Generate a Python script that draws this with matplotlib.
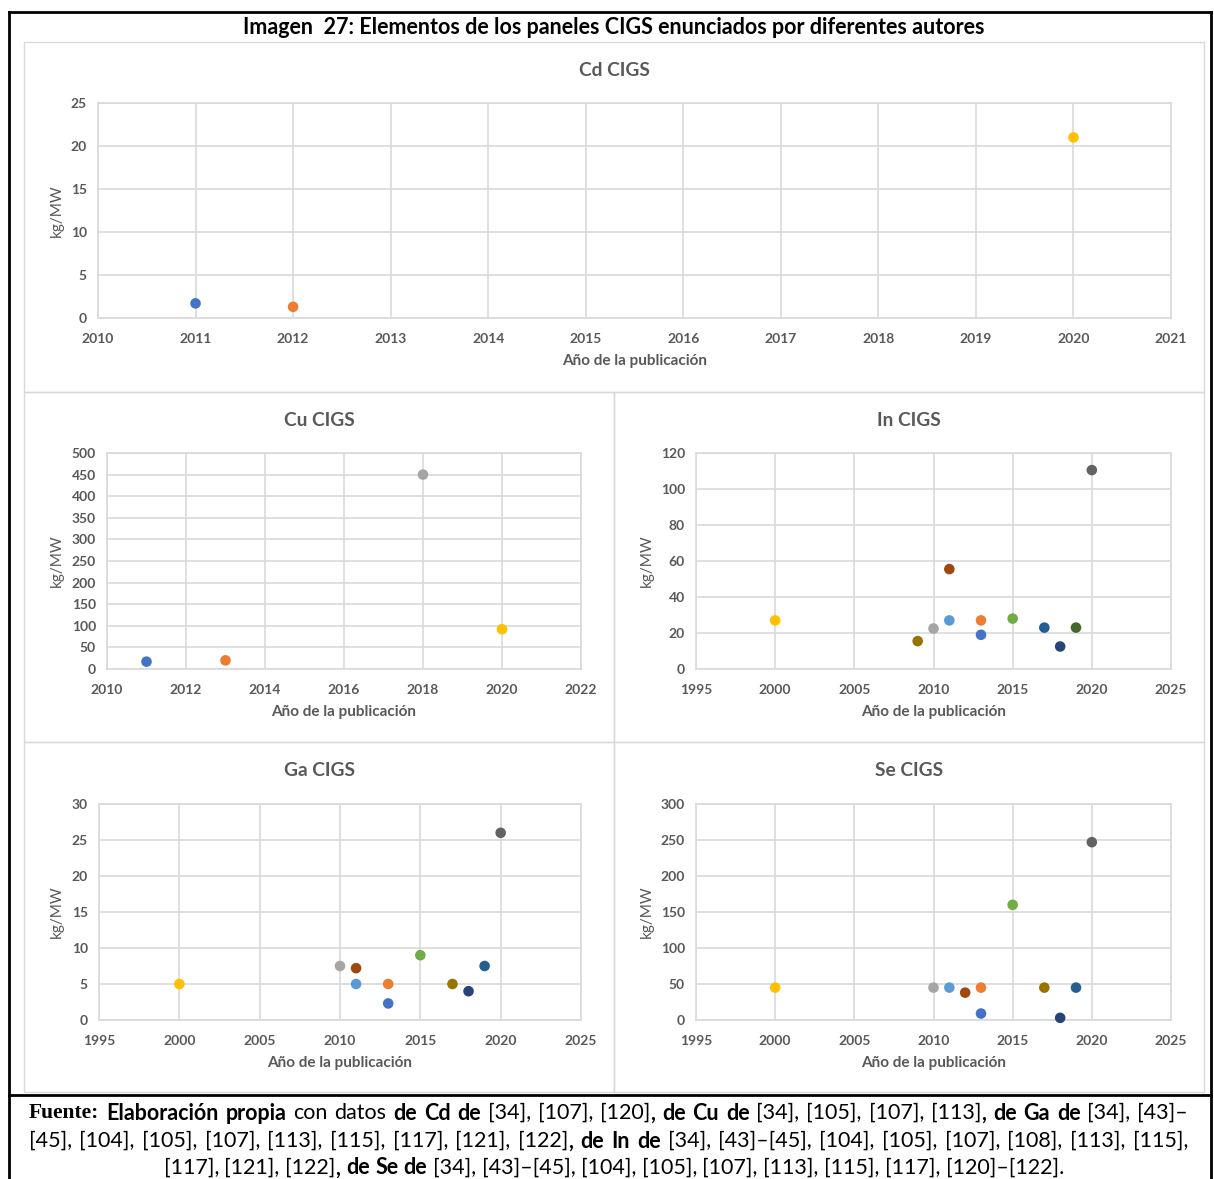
import matplotlib
matplotlib.use('Agg')
import matplotlib.pyplot as plt
from matplotlib.patches import Rectangle
from matplotlib.lines import Line2D

plt.rcParams['font.family'] = ['Lato', 'DejaVu Sans']

W, H = 1214, 1179
GREY_TXT = '#595959'
GRID = '#D9D9D9'

# colour names (Excel office palette)
BLUE = '#4472C4'
ORANGE = '#ED7D31'
GREY = '#A5A5A5'
YELLOW = '#FFC000'
LBLUE = '#5B9BD5'
GREEN = '#70AD47'
NAVY = '#264478'
BROWN = '#9E480E'
DGREY = '#636363'
OLIVE = '#997300'
DBLUE = '#255E91'
DGREEN = '#43682B'

# ---- data ----
cd_years = [2011, 2012, 2020]
cd_values = [1.7, 1.3, 21]
cd_colors = [BLUE, ORANGE, YELLOW]

cu_years = [2011, 2013, 2018, 2020]
cu_values = [17, 20, 450, 92]
cu_colors = [BLUE, ORANGE, GREY, YELLOW]

in_years = [2000, 2009, 2010, 2011, 2011, 2013, 2013, 2015, 2017, 2018, 2019, 2020]
in_values = [27, 15.5, 22.5, 27, 55.5, 27, 19, 28, 23, 12.5, 23, 110.5]
in_colors = [YELLOW, OLIVE, GREY, LBLUE, BROWN, ORANGE, BLUE, GREEN, DBLUE, NAVY, DGREEN, DGREY]

ga_years = [2000, 2010, 2011, 2011, 2013, 2013, 2015, 2017, 2018, 2019, 2020]
ga_values = [5, 7.5, 7.2, 5, 5, 2.3, 9, 5, 4, 7.5, 26]
ga_colors = [YELLOW, GREY, BROWN, LBLUE, ORANGE, BLUE, GREEN, OLIVE, NAVY, DBLUE, DGREY]

se_years = [2000, 2010, 2011, 2012, 2013, 2013, 2015, 2017, 2018, 2019, 2020]
se_values = [45, 45, 45, 38, 45, 9, 160, 45, 3, 45, 247]
se_colors = [YELLOW, GREY, LBLUE, BROWN, ORANGE, BLUE, GREEN, OLIVE, NAVY, DBLUE, DGREY]

main_title = 'Imagen  27: Elementos de los paneles CIGS enunciados por diferentes autores'
x_title = 'Año de la publicación'
y_title = 'kg/MW'

caption_lines = [
    [('Fuente: ', 'serif'), ('Elaboración propia', 'b'), (' con datos ', 'r'), ('de Cd de', 'b'),
     (' [34], [107], [120]', 'r'), (', de Cu de', 'b'), (' [34], [105], [107], [113]', 'r'),
     (', de Ga de', 'b'), (' [34], [43]–', 'r')],
    [('[45], [104], [105], [107], [113], [115], [117], [121], [122]', 'r'), (', de In de', 'b'),
     (' [34], [43]–[45], [104], [105], [107], [108], [113], [115],', 'r')],
    [('[117], [121], [122]', 'r'), (', de Se de', 'b'),
     (' [34], [43]–[45], [104], [105], [107], [113], [115], [117], [120]–[122].', 'r')],
]

fig = plt.figure(figsize=(W / 100, H / 100), dpi=100)


def fx(px):
    return px / W


def fy(py):
    return 1 - py / H


# frames
fig.add_artist(Line2D([fx(9), fx(1211)], [fy(12), fy(12)], color='black', lw=2))
fig.add_artist(Line2D([fx(9), fx(9)], [fy(12), fy(1182)], color='black', lw=2))
fig.add_artist(Line2D([fx(1211), fx(1211)], [fy(12), fy(1182)], color='black', lw=2))
fig.add_artist(Line2D([fx(9), fx(1211)], [fy(1095), fy(1095)], color='black', lw=2))

panels = [(24, 42, 1204, 392), (24, 392, 614, 742), (614, 392, 1204, 742),
          (24, 742, 614, 1092), (614, 742, 1204, 1092)]
for x0, y0, x1, y1 in panels:
    fig.add_artist(Rectangle((fx(x0), fy(y1)), fx(x1) - fx(x0), fy(y0) - fy(y1),
                             fill=False, ec=GRID, lw=1))

fig.text(fx(614), fy(28), main_title, ha='center', va='center', fontsize=15.5,
         fontweight='bold', color='black')


def make_panel(box, panel, title, years, values, colors, xlim, xstep, ylim, ystep):
    l, t, r, b = box
    ax = fig.add_axes([fx(l), fy(b), fx(r) - fx(l), fy(t) - fy(b)])
    ax.scatter(years, values, c=colors, s=58, zorder=3, clip_on=False, linewidths=0)
    ax.set_xlim(*xlim)
    ax.set_ylim(*ylim)
    ax.set_xticks(range(xlim[0], xlim[1] + 1, xstep))
    yt = []
    v = ylim[0]
    while v <= ylim[1]:
        yt.append(v)
        v += ystep
    ax.set_yticks(yt)
    ax.grid(True, color=GRID, lw=1.2)
    ax.set_axisbelow(True)
    for s in ax.spines.values():
        s.set_color(GRID)
        s.set_linewidth(1.2)
    ax.tick_params(length=0, labelsize=10, labelcolor=GREY_TXT)
    ax.tick_params(axis='x', pad=11)
    ax.tick_params(axis='y', pad=8)
    for lab in ax.get_xticklabels() + ax.get_yticklabels():
        lab.set_fontweight('bold')
    px0, py0, px1, py1 = panel
    fig.text(fx((px0 + px1) / 2), fy(t - 33), title, ha='center', va='center',
             fontsize=13.8, fontweight='bold', color=GREY_TXT)
    fig.text(fx((l + r) / 2), fy(b + 43), x_title, ha='center', va='center',
             fontsize=11, fontweight='bold', color=GREY_TXT)
    fig.text(fx(px0 + 33), fy((t + b) / 2), y_title, ha='center', va='center', rotation=90,
             fontsize=11, color=GREY_TXT)
    return ax


make_panel((98, 103, 1171, 318), panels[0], 'Cd CIGS', cd_years, cd_values, cd_colors,
           (2010, 2021), 1, (0, 25), 5)
make_panel((107, 453, 581, 669), panels[1], 'Cu CIGS', cu_years, cu_values, cu_colors,
           (2010, 2022), 2, (0, 500), 50)
make_panel((696, 453, 1171, 669), panels[2], 'In CIGS', in_years, in_values, in_colors,
           (1995, 2025), 5, (0, 120), 20)
make_panel((99, 804, 581, 1020), panels[3], 'Ga CIGS', ga_years, ga_values, ga_colors,
           (1995, 2025), 5, (0, 30), 5)
make_panel((696, 804, 1171, 1020), panels[4], 'Se CIGS', se_years, se_values, se_colors,
           (1995, 2025), 5, (0, 300), 50)

# caption with mixed styles, first two lines justified
renderer = fig.canvas.get_renderer()
styles = {
    'serif': dict(family=['Liberation Serif', 'DejaVu Serif'], fontweight='bold'),
    'b': dict(fontweight='bold'),
    'r': dict(fontweight='normal'),
}
cap_size = 15.5


def words_of(runs):
    words = [[]]
    for text, style in runs:
        parts = text.split(' ')
        for i, p in enumerate(parts):
            if i > 0:
                words.append([])
            if p:
                words[-1].append((p, style))
    return [w for w in words if w]


def measure(s, style):
    tt = fig.text(0, 0, s, fontsize=cap_size, **styles[style])
    w = tt.get_window_extent(renderer).width
    tt.remove()
    return w


space_w = measure('a a', 'r') - measure('aa', 'r')
cap_y = [1113, 1141, 1168]
for li, runs in enumerate(caption_lines):
    words = words_of(runs)
    widths = [[measure(s, st) for s, st in w] for w in words]
    total = sum(sum(w) for w in widths)
    if li < 2:
        left, right = 29, 1188
        gap = (right - left - total) / (len(words) - 1)
    else:
        gap = space_w
        left = 614 - (total + gap * (len(words) - 1)) / 2
    x = left
    for w, ws in zip(words, widths):
        for (s, st), wd in zip(w, ws):
            fig.text(fx(x), fy(cap_y[li]), s, ha='left', va='center', fontsize=cap_size,
                     color='black', **styles[st])
            x += wd
        x += gap

fig.savefig('out.png', dpi=100)
